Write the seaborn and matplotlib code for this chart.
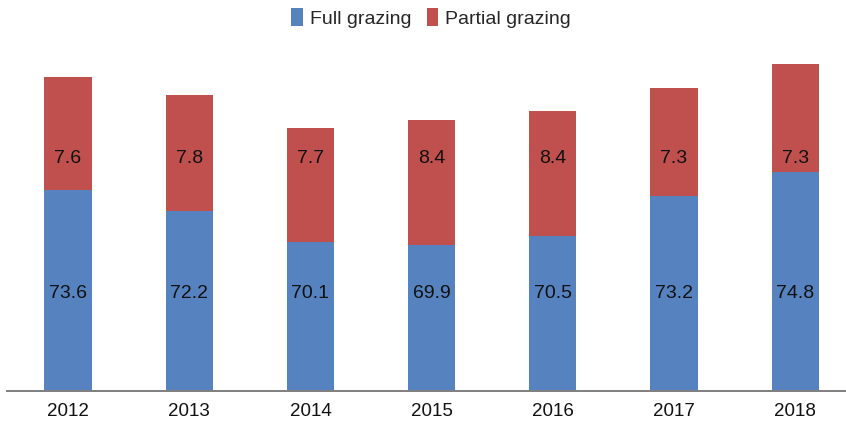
import matplotlib
matplotlib.use("Agg")
import matplotlib.pyplot as plt
import seaborn as sns
import pandas as pd
from matplotlib.patches import Patch

years = ["2012", "2013", "2014", "2015", "2016", "2017", "2018"]
full_grazing = [73.6, 72.2, 70.1, 69.9, 70.5, 73.2, 74.8]
partial_grazing = [7.6, 7.8, 7.7, 8.4, 8.4, 7.3, 7.3]

BLUE = "#5682C0"
RED = "#C0504D"

sns.set_theme(style="white")
plt.rcParams["font.family"] = ["Liberation Sans", "DejaVu Sans"]

df = pd.DataFrame({
    "year": years,
    "full": full_grazing,
    "total": [f + p for f, p in zip(full_grazing, partial_grazing)],
})

fig = plt.figure(figsize=(8.46, 4.25), dpi=100)
# axes spans the full category band; the right end runs past the canvas edge
ax = fig.add_axes([7.4 / 846, 34 / 425, 848.4 / 846, 355 / 425])

# stacked bars: total (partial on top) drawn first, full grazing over it
sns.barplot(data=df, x="year", y="total", color=RED, width=0.39,
            saturation=1, ax=ax, linewidth=0)
sns.barplot(data=df, x="year", y="full", color=BLUE, width=0.39,
            saturation=1, ax=ax, linewidth=0)

ax.set_xlim(-0.5, 6.5)
ax.set_ylim(60, 84)
ax.set_xlabel("")
ax.set_ylabel("")
ax.set_yticks([])
ax.tick_params(axis="x", length=0, pad=9, labelsize=13.5, colors="#111111")

for s in ["top", "right", "left"]:
    ax.spines[s].set_visible(False)
ax.spines["bottom"].set_color("#7f7f7f")
ax.spines["bottom"].set_linewidth(1.4)

# value labels inside each segment
for i, (f, p) in enumerate(zip(full_grazing, partial_grazing)):
    ax.text(i, 66.6, f"{f:.1f}", ha="center", va="center",
            fontsize=14, color="#111111")
    ax.text(i, 75.7, f"{p:.1f}", ha="center", va="center",
            fontsize=14, color="#111111")

handles = [Patch(facecolor=BLUE, edgecolor="none", label="Full grazing"),
           Patch(facecolor=RED, edgecolor="none", label="Partial grazing")]
fig.legend(handles=handles, loc="center", bbox_to_anchor=(431 / 846, 1 - 18 / 425),
           ncol=2, frameon=False, fontsize=14, handlelength=0.6,
           handleheight=1.0, handletextpad=0.35, columnspacing=0.8)

fig.savefig("out.png", dpi=100)
